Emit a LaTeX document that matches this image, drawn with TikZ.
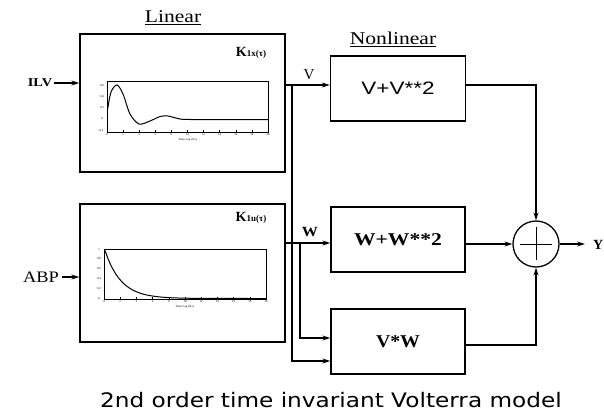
\documentclass[tikz,border=0pt]{standalone}
\usepackage{fontspec}
\usepackage{graphicx}
\setmainfont{Liberation Serif}
\newfontfamily\capfont{DejaVu Sans}
\newfontfamily\lsans{Liberation Sans}
\usetikzlibrary{arrows.meta,calc}
\begin{document}
\begin{tikzpicture}[x=1pt,y=-1pt,
  box/.style={draw, line width=1.4pt, inner sep=0pt},
  arr/.style={-{Stealth[length=8pt,width=5pt]}, line width=1.1pt},
  ln/.style={line width=1.1pt},
  lbl/.style={inner sep=0pt},
  tick/.style={inner sep=0pt, font=\fontsize{3}{3}\selectfont}]
\useasboundingbox (0,0) rectangle (604,412);
% linear boxes
\node[box, minimum width=205pt, minimum height=138pt] (lin1) at (182.5,103) {};
\node[box, minimum width=205pt, minimum height=138pt] (lin2) at (182.5,273) {};
% nonlinear boxes
\node[box, minimum width=135pt, minimum height=65pt] (nl1) at (398,88.5)
  {\lsans\fontsize{18}{18}\selectfont\scalebox{1.25}[1]{V+V**2}};
\node[box, minimum width=134pt, minimum height=65pt] (nl2) at (398,239.5)
  {\bfseries\fontsize{18}{18}\selectfont\scalebox{1.2}[1]{W+W**2}};
\node[box, minimum width=134pt, minimum height=65pt] (vw) at (398,341.5)
  {\bfseries\fontsize{18}{18}\selectfont\scalebox{1.1}[1]{V*W}};
% summing junction
\node[draw, circle, minimum size=46pt, line width=1.3pt, inner sep=0pt] (sum) at (536,244) {};
\draw[line width=1pt] ($(sum.center)+(-16,0)$) -- ($(sum.center)+(16,0)$);
\draw[line width=1pt] ($(sum.center)+(0,-17)$) -- ($(sum.center)+(0,16)$);
% titles
\node[lbl] (linlbl) at (173,18) {\fontsize{18}{18}\selectfont\scalebox{1.2}[1]{\underline{Linear}}};
\node[lbl] (nllbl) at (393,39) {\fontsize{18}{18}\selectfont\scalebox{1.2}[1]{\underline{Nonlinear}}};
\node[lbl] (k1) at (251,53) {\bfseries\fontsize{14}{14}\selectfont K\fontsize{9}{9}\selectfont 1x(τ)};
\node[lbl] (k2) at (251,218) {\bfseries\fontsize{14}{14}\selectfont K\fontsize{9}{9}\selectfont 1u(τ)};
% inputs
\node[inner sep=2pt] (ilv) at (40,83) {\bfseries\fontsize{12}{12}\selectfont\scalebox{1.2}[1]{ILV}};
\node[inner sep=3pt] (abp) at (41,277) {\fontsize{16}{16}\selectfont\scalebox{1.15}[1]{ABP}};
\draw[arr] (ilv.east) -- (lin1.west |- ilv);
\draw[arr] (abp.east) -- (lin2.west |- abp);
% V and W labels
\node[lbl] (vlbl) at (309,75) {\fontsize{15}{15}\selectfont V};
\node[lbl] (wlbl) at (310,232) {\bfseries\fontsize{14}{14}\selectfont\scalebox{1.15}[1]{W}};
% connectors
\coordinate (jv) at (292,85);
\coordinate (vb) at (292,361);
\coordinate (jw) at (300,243);
\coordinate (wb) at (300,338);
\coordinate (vwo) at (465,345);
\coordinate (out) at (585,244);
\draw[ln] (lin1.east |- jv) -- (jv);
\draw[arr] (jv) -- (nl1.west |- jv);
\draw[arr] (jv) -- (vb) -- (vw.west |- vb);
\draw[ln] (lin2.east |- jw) -- (jw);
\draw[arr] (jw) -- (nl2.west |- jw);
\draw[arr] (jw) -- (wb) -- (vw.west |- wb);
\draw[arr] (nl1.east |- jv) -| (sum.north);
\draw[arr] (nl2.east |- sum) -- (sum.west);
\draw[arr] (vw.east |- vwo) -| (sum.south);
\draw[arr] (sum.east) -- (out);
\node[anchor=east, inner sep=0pt] (ylbl) at (603.5,245) {\bfseries\fontsize{14}{14}\selectfont Y};
% plot 1
\draw[line width=0.6pt] (107,81) rectangle (268,132);
\draw[line width=1pt] plot[smooth] coordinates {(107.5,110) (111,92) (117,85) (123,94) (130,114) (139,124) (150,121) (160,116.5) (168,116) (178,118.5) (190,119.5) (268,119.5)};
\foreach \i in {0,...,10} {
  \draw[line width=0.5pt] ({107+16.1*\i},132) -- ({107+16.1*\i},130);
  \node[tick] at ({107+16.1*\i},135) {\pgfmathparse{int(2*\i)}\pgfmathresult};
}
\node[tick] at (102,86) {0.6};
\node[tick] at (102,97) {0.4};
\node[tick] at (102,108) {0.2};
\node[tick] at (102,119) {0};
\node[tick] at (101,131) {-0.2};
\node[tick] at (188,140) {Time Lag (Sec)};
% plot 2
\draw[line width=0.6pt] (104,249) rectangle (266,299);
\draw[line width=1pt] plot[domain=105:266, samples=60] (\x, {298.5-48*exp(-(\x-105)/16)});
\foreach \i in {0,...,10} {
  \draw[line width=0.5pt] ({104+16.2*\i},299) -- ({104+16.2*\i},297);
  \node[tick] at ({104+16.2*\i},302) {\pgfmathparse{int(2*\i)}\pgfmathresult};
}
\node[tick] at (99,250) {1};
\node[tick] at (99,259) {0.8};
\node[tick] at (99,269) {0.6};
\node[tick] at (99,279) {0.4};
\node[tick] at (99,289) {0.2};
\node[tick] at (99,299) {0};
\node[tick] at (185,307) {Time Lag (Sec)};
% caption
\node[lbl] (cap) at (331,400) {\capfont\fontsize{20}{20}\selectfont\scalebox{1.16}[1]{2nd order time invariant Volterra model}};
\end{tikzpicture}
\end{document}
